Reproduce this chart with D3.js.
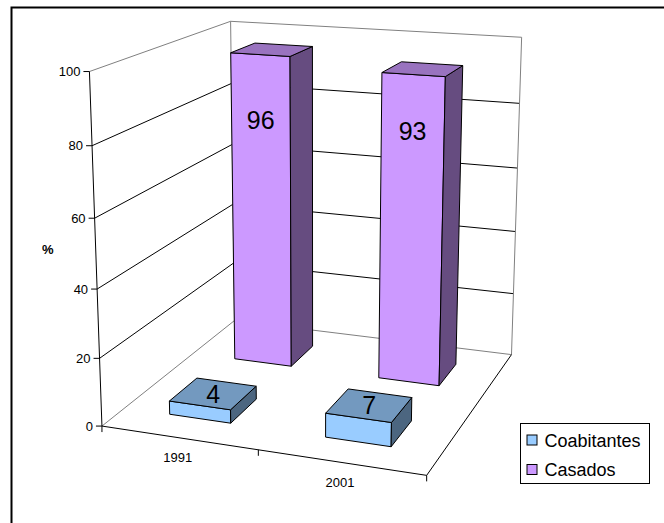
<!DOCTYPE html>
<html>
<head>
<meta charset="utf-8">
<script src="https://cdn.jsdelivr.net/npm/d3@7"></script>
<style>
  body { margin: 0; background: #fff; }
  svg { display: block; font-family: Arial, "Liberation Sans", sans-serif; }
</style>
</head>
<body>
<div id="chart"></div>
<script>
// data
const years = ["1991", "2001"];
const series = ["Coabitantes", "Casados"];
const coabitantes = [4, 7];
const casados = [96, 93];
const yTicks = [0, 20, 40, 60, 80, 100];

const colors = {
    Coabitantes: { front: "#99CCFF", top: "#7399BF", side: "#4C6680" },
    Casados: { front: "#CC99FF", top: "#9973BF", side: "#664C80" }
};

const W = 664, H = 523;
const svg = d3.select("#chart").append("svg")
    .attr("width", W)
    .attr("height", H);

// chart frame (only top and left edges fall inside the picture)
svg.append("path")
    .attr("d", `M11.5,${H}V7.5H${W}`)
    .attr("fill", "none")
    .attr("stroke", "#000")
    .attr("stroke-width", 2);

// scales in "box" space: x 0..1 categories, depth 0..1 series, z 0..1 value
const x = d3.scaleBand().domain(years).range([0, 1]);
const depth = d3.scaleBand().domain(series).range([0, 1]);
const z = d3.scaleLinear().domain([0, 100]).range([0, 1]);

// camera: perspective fitted to the corners of the plot box [X, Y, Z, u, v]
const calib = [
    [0, 0, 0, 102.3, 425.7],
    [0, 0, 0.2, 99.3, 358.3],
    [0, 0, 0.4, 96.7, 289],
    [0, 0, 0.8, 92.3, 145.7],
    [0, 0, 1, 89.3, 71.7],
    [0, 1, 1, 230.7, 21.3],
    [1, 1, 1, 521.7, 37.3],
    [1, 1, 0.8, 519.6, 103.3],
    [1, 1, 0.2, 513, 293.3],
    [1, 1, 0, 511.7, 355],
    [1, 0, 0, 426.7, 475],
    [0.5, 0, 0, 258.5, 450.5]
];

function fitCamera(pts) {
    const rows = [], rhs = [];
    pts.forEach(([X, Y, Z, u, v]) => {
        u = (u - 300) / 200; v = (v - 250) / 200;
        rows.push([X, Y, Z, 1, 0, 0, 0, 0, -u * X, -u * Y, -u * Z]); rhs.push(u);
        rows.push([0, 0, 0, 0, X, Y, Z, 1, -v * X, -v * Y, -v * Z]); rhs.push(v);
    });
    const n = 11;
    const M = Array.from({ length: n }, () => new Array(n + 1).fill(0));
    rows.forEach((r, k) => {
        for (let i = 0; i < n; i++) {
            for (let j = 0; j < n; j++) M[i][j] += r[i] * r[j];
            M[i][n] += r[i] * rhs[k];
        }
    });
    for (let c = 0; c < n; c++) {
        let p = c;
        for (let r = c + 1; r < n; r++) if (Math.abs(M[r][c]) > Math.abs(M[p][c])) p = r;
        [M[c], M[p]] = [M[p], M[c]];
        for (let r = 0; r < n; r++) {
            if (r === c) continue;
            const f = M[r][c] / M[c][c];
            for (let j = c; j <= n; j++) M[r][j] -= f * M[c][j];
        }
    }
    const p = M.map((r, i) => r[n] / r[i]);
    return (X, Y, Z) => {
        const w = p[8] * X + p[9] * Y + p[10] * Z + 1;
        return [300 + 200 * (p[0] * X + p[1] * Y + p[2] * Z + p[3]) / w,
                250 + 200 * (p[4] * X + p[5] * Y + p[6] * Z + p[7]) / w];
    };
}
const P = fitCamera(calib);

const poly = pts => "M" + pts.map(q => P(...q).join(",")).join("L") + "Z";
const seg = (a, b) => "M" + P(...a).join(",") + "L" + P(...b).join(",");

const box = svg.append("g");

// walls and floor
box.append("path").attr("d", poly([[0, 0, 0], [1, 0, 0], [1, 1, 0], [0, 1, 0]])).attr("fill", "#fff");
box.append("path").attr("d", poly([[0, 0, 0], [0, 0, 1], [0, 1, 1], [0, 1, 0]])).attr("fill", "#fff");
box.append("path").attr("d", poly([[0, 1, 0], [0, 1, 1], [1, 1, 1], [1, 1, 0]])).attr("fill", "#fff");

// gridlines
yTicks.filter(t => t > 0 && t < 100).forEach(t => {
    box.append("path").attr("d", seg([0, 0, z(t)], [0, 1, z(t)]) + seg([0, 1, z(t)], [1, 1, z(t)]))
        .attr("fill", "none").attr("stroke", "#000").attr("stroke-width", 1);
});

// wall edges
const edges = [
    [[0, 0, 1], [0, 1, 1]], [[0, 1, 1], [1, 1, 1]], [[0, 1, 0], [0, 1, 1]],
    [[1, 1, 0], [1, 1, 1]], [[0, 0, 0], [0, 1, 0]], [[0, 1, 0], [1, 1, 0]]
];
edges.forEach(([a, b]) => {
    box.append("path").attr("d", seg(a, b)).attr("fill", "none")
        .attr("stroke", "#808080").attr("stroke-width", 1);
});
box.append("path").attr("d", seg([1, 1, 0], [1, 0, 0])).attr("fill", "none")
    .attr("stroke", "#000").attr("stroke-width", 1);

// axes
const axis = svg.append("g").attr("stroke", "#000").attr("fill", "none");
axis.append("path").attr("d", seg([0, 0, 0], [0, 0, 1]));
axis.append("path").attr("d", seg([0, 0, 0], [1, 0, 0]));

yTicks.forEach(t => {
    const [u, v] = P(0, 0, z(t));
    axis.append("path").attr("d", `M${u - 6},${v}H${u}`);
    svg.append("text")
        .attr("x", u - 9).attr("y", v)
        .attr("text-anchor", "end")
        .attr("dominant-baseline", "central")
        .attr("font-size", 13)
        .text(t);
});

[0, 0.5, 1].forEach(t => {
    const [u, v] = P(t, 0, 0);
    axis.append("path").attr("d", `M${u},${v}V${v + 6}`);
});
years.forEach(c => {
    const [u, v] = P(x(c) + x.bandwidth() / 2, 0, 0);
    svg.append("text")
        .attr("x", u - 1).attr("y", v + 20)
        .attr("text-anchor", "middle")
        .attr("dominant-baseline", "central")
        .attr("font-size", 13)
        .text(c);
});

const mid = P(0, 0, 0.5);
svg.append("text")
    .attr("x", mid[0] - 48).attr("y", mid[1] - 4)
    .attr("text-anchor", "middle")
    .attr("dominant-baseline", "central")
    .attr("font-size", 13)
    .attr("font-weight", "bold")
    .text("%");

// bars: back row first, left to right
const rowsData = [
    { name: "Coabitantes", values: coabitantes },
    { name: "Casados", values: casados }
];
const bars = [];
rowsData.slice().reverse().forEach(s => {
    years.forEach((c, i) => bars.push({ series: s.name, year: c, value: s.values[i] }));
});

bars.forEach(d => {
    const x0 = x(d.year) + x.bandwidth() * 0.3, x1 = x(d.year) + x.bandwidth() * 0.7;
    const y0 = depth(d.series) + depth.bandwidth() * 0.3, y1 = depth(d.series) + depth.bandwidth() * 0.7;
    const h = z(d.value);
    const col = colors[d.series];
    const g = svg.append("g").attr("stroke", "#000").attr("stroke-width", 1).attr("stroke-linejoin", "round");
    g.append("path").attr("d", poly([[x0, y0, 0], [x1, y0, 0], [x1, y0, h], [x0, y0, h]])).attr("fill", col.front);
    g.append("path").attr("d", poly([[x1, y0, 0], [x1, y1, 0], [x1, y1, h], [x1, y0, h]])).attr("fill", col.side);
    g.append("path").attr("d", poly([[x0, y0, h], [x1, y0, h], [x1, y1, h], [x0, y1, h]])).attr("fill", col.top);

    // value label: on the front face for tall bars (clamped height), on the top for short ones
    const tall = d.value > 50;
    const [u, v] = tall ? P((x0 + x1) / 2, y0, z(76.5))
                        : P((x0 + x1) / 2, (y0 + y1) / 2, h);
    svg.append("text")
        .attr("x", u).attr("y", v)
        .attr("text-anchor", "middle")
        .attr("dominant-baseline", "central")
        .attr("font-size", 25)
        .text(d.value);
});

// legend
const legend = svg.append("g").attr("transform", "translate(520.5,423.5)");
legend.append("rect").attr("width", 129).attr("height", 60)
    .attr("fill", "#fff").attr("stroke", "#000");
series.forEach((s, i) => {
    const row = legend.append("g").attr("transform", `translate(0,${17 + i * 29.5})`);
    row.append("rect").attr("x", 6.5).attr("y", -5.5).attr("width", 10).attr("height", 10)
        .attr("fill", colors[s].front).attr("stroke", "#000");
    row.append("text").attr("x", 24).attr("y", 0)
        .attr("dominant-baseline", "central")
        .attr("font-size", 18)
        .text(s);
});
</script>
</body>
</html>
